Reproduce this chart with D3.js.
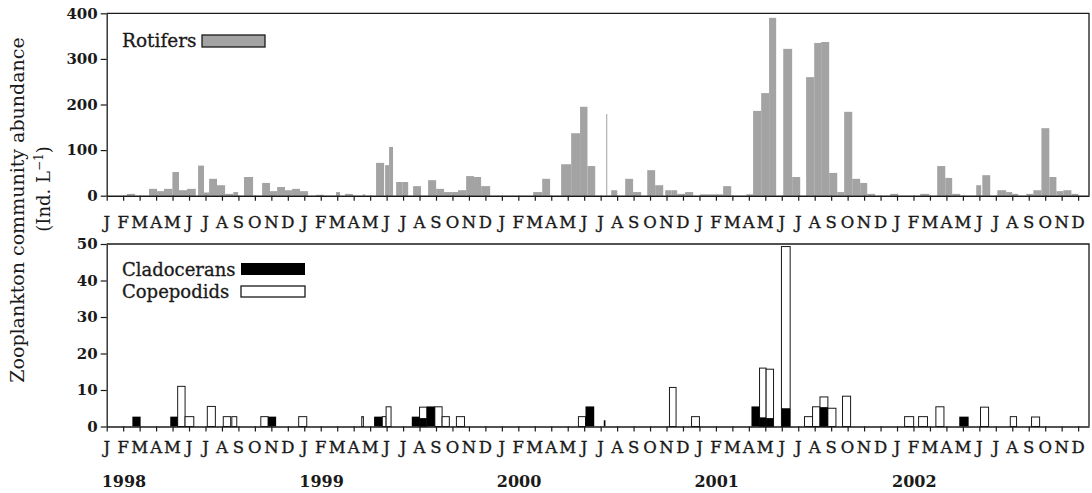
<!DOCTYPE html>
<html>
<head>
<meta charset="utf-8">
<script src="https://cdn.jsdelivr.net/npm/d3@7.9.0/dist/d3.min.js"></script>
<style>
  body { margin: 0; background: #fff; }
  svg { display: block; font-family: "DejaVu Serif", serif; }
</style>
</head>
<body>
<svg id="chart" width="1092" height="493"></svg>
<script>
// month letters and years on the x axis
const monthLetters = ["J", "F", "M", "A", "M", "J", "J", "A", "S", "O", "N", "D"];
const years = ["1998", "1999", "2000", "2001", "2002"];
const topTicks = [0, 100, 200, 300, 400];
const bottomTicks = [0, 10, 20, 30, 40, 50];

// sampling periods in months since Jan 1998: [start, end, abundance]
const rotifers = [
  [1.22, 1.72, 4], [2.57, 3.06, 15], [3.06, 3.48, 10], [3.48, 3.99, 15], [3.99, 4.39, 52],
  [4.39, 4.88, 12], [4.88, 5.41, 15], [5.55, 5.91, 66], [5.91, 6.22, 7], [6.22, 6.7, 37],
  [6.7, 7.19, 23], [7.19, 7.69, 4], [7.69, 7.98, 8], [8.34, 8.89, 41], [9.44, 9.92, 28],
  [9.92, 10.35, 10], [10.35, 10.83, 19], [10.83, 11.26, 12], [11.26, 11.74, 15], [11.74, 12.23, 10],
  [12.7, 13.2, 2], [13.93, 14.17, 8], [14.48, 14.95, 4], [15.55, 15.69, 3], [16.36, 16.85, 72],
  [16.91, 17.15, 67], [17.15, 17.39, 107], [17.58, 17.95, 30], [17.95, 18.31, 30], [18.61, 19.09, 21],
  [19.52, 20.01, 34], [20.01, 20.49, 15], [20.49, 20.92, 8], [20.92, 21.34, 8], [21.34, 21.83, 12],
  [21.83, 22.31, 43], [22.31, 22.74, 41], [22.74, 23.29, 21], [25.9, 26.45, 8], [26.45, 26.93, 37],
  [27.6, 28.21, 69], [28.21, 28.75, 137], [28.75, 29.2, 195], [29.2, 29.67, 65], [30.34, 30.4, 179],
  [30.64, 31.01, 12], [31.49, 31.97, 37], [31.97, 32.46, 8], [32.83, 33.31, 56], [33.31, 33.8, 23],
  [33.92, 34.29, 12], [34.29, 34.65, 12], [34.65, 35.13, 4], [35.13, 35.62, 8], [36.04, 36.5, 3],
  [36.5, 36.97, 3], [36.97, 37.44, 3], [37.44, 37.93, 21], [38.84, 39.26, 3], [39.26, 39.75, 186],
  [39.75, 40.23, 225], [40.23, 40.66, 390], [41.09, 41.63, 322], [41.63, 42.12, 41], [42.48, 42.97, 260],
  [42.97, 43.39, 335], [43.39, 43.88, 337], [43.88, 44.37, 50], [44.37, 44.79, 8], [44.79, 45.28, 184],
  [45.28, 45.76, 37], [45.76, 46.19, 28], [46.19, 46.67, 4], [47.59, 48.07, 4], [49.41, 49.96, 4],
  [50.44, 50.93, 65], [50.93, 51.35, 39], [51.35, 51.84, 4], [52.81, 53.11, 23], [53.18, 53.66, 45],
  [54.09, 54.63, 12], [54.63, 55.0, 8], [55.0, 55.36, 4], [55.85, 56.28, 4], [56.28, 56.77, 12],
  [56.77, 57.25, 148], [57.25, 57.68, 41], [57.68, 58.1, 10], [58.1, 58.59, 12], [58.59, 59.01, 4]
];

const cladocerans = [
  [1.56, 2.06, 2.7], [3.86, 4.31, 2.7], [9.8, 10.29, 2.7], [16.24, 16.73, 2.7], [18.53, 19.0, 2.7],
  [19.0, 19.44, 2.3], [19.44, 19.93, 5.5], [29.08, 29.61, 5.5], [30.19, 30.29, 1.7], [39.16, 39.65, 5.5],
  [39.65, 40.05, 2.5], [40.05, 40.5, 2.3], [40.98, 41.51, 5.0], [43.32, 43.8, 5.3], [51.78, 52.35, 2.7]
];

const copepodids = [
  [4.31, 4.76, 11], [4.76, 5.29, 2.7], [6.11, 6.6, 5.5], [7.08, 7.53, 2.7], [7.6, 7.9, 2.7],
  [9.36, 9.8, 2.7], [11.66, 12.15, 2.7], [15.49, 15.59, 2.7], [16.74, 16.97, 2.7], [16.97, 17.27, 5.4],
  [19.0, 19.44, 5.3], [19.93, 20.37, 5.4], [20.37, 20.81, 2.7], [21.24, 21.73, 2.7], [28.65, 29.08, 2.7],
  [34.18, 34.58, 10.7], [35.52, 36.0, 2.7], [39.65, 40.05, 16], [40.05, 40.5, 15.7], [40.98, 41.51, 49.3],
  [42.38, 42.87, 2.7], [42.87, 43.32, 5.4], [43.32, 43.8, 8.1], [43.8, 44.29, 5.0], [44.69, 45.18, 8.3],
  [48.46, 49.01, 2.7], [49.31, 49.85, 2.7], [50.36, 50.85, 5.4], [53.07, 53.56, 5.3], [54.88, 55.26, 2.7],
  [56.17, 56.66, 2.6]
];

const svg = d3.select("#chart");
const ink = "#1a1a1a";

const x = d3.scaleLinear().domain([0, 59.66]).range([106.7, 1089]);
const yTop = d3.scaleLinear().domain([0, 400]).range([195.7, 13.3]);
const yBot = d3.scaleLinear().domain([0, 50]).range([426.5, 244]);

function panel(y, ticks, labelY) {
  const g = svg.append("g");
  const [y0, y1] = y.range();
  const [x0, x1] = x.range();

  // box: top and right edges
  g.append("path")
    .attr("d", `M${x0},${y1}H${x1}V${y0}`)
    .attr("fill", "none")
    .attr("stroke", ink)
    .attr("stroke-width", 1.3);

  // y axis
  const ay = g.append("g")
    .attr("transform", `translate(${x0},0)`)
    .call(d3.axisLeft(y).tickValues(ticks).tickSize(6).tickSizeOuter(0).tickPadding(3));
  ay.select(".domain").attr("stroke", ink).attr("stroke-width", 1.3);
  ay.selectAll(".tick line").attr("stroke", ink).attr("stroke-width", 1.2);
  ay.selectAll(".tick text")
    .attr("fill", ink)
    .style("font-family", "DejaVu Serif, serif")
    .style("font-size", "15px")
    .style("font-weight", "bold");

  // x axis with a tick at every month start
  const ax = g.append("g")
    .attr("transform", `translate(0,${y0})`)
    .call(d3.axisBottom(x).tickValues(d3.range(0, 60)).tickSize(5).tickSizeOuter(0).tickFormat(""));
  ax.select(".domain").attr("stroke", ink).attr("stroke-width", 1.6);
  ax.selectAll(".tick line").attr("stroke", ink).attr("stroke-width", 1.2);

  // month letters
  g.append("g").selectAll("text")
    .data(d3.range(0, 60))
    .join("text")
    .attr("x", d => x(d))
    .attr("y", labelY)
    .attr("text-anchor", "middle")
    .attr("fill", ink)
    .attr("stroke", ink)
    .attr("stroke-width", 0.35)
    .style("font-size", "16.5px")
    .text(d => monthLetters[d % 12]);
  return g;
}

const gTop = panel(yTop, topTicks, 228);
const gBot = panel(yBot, bottomTicks, 453);

// rotifer bars
gTop.insert("g", ":first-child").selectAll("rect")
  .data(rotifers)
  .join("rect")
  .attr("x", d => x(d[0]))
  .attr("width", d => Math.max(1, x(d[1]) - x(d[0])))
  .attr("y", d => yTop(d[2]))
  .attr("height", d => yTop(0) - yTop(d[2]))
  .attr("fill", "#a3a3a3");

// copepodids first (white), cladocerans over them (black)
const barsBot = gBot.insert("g", ":first-child");
barsBot.selectAll("rect.cope")
  .data(copepodids)
  .join("rect")
  .attr("class", "cope")
  .attr("x", d => x(d[0]))
  .attr("width", d => x(d[1]) - x(d[0]))
  .attr("y", d => yBot(d[2]))
  .attr("height", d => yBot(0) - yBot(d[2]))
  .attr("fill", "#fff")
  .attr("stroke", ink)
  .attr("stroke-width", 1);
barsBot.selectAll("rect.clad")
  .data(cladocerans)
  .join("rect")
  .attr("class", "clad")
  .attr("x", d => x(d[0]))
  .attr("width", d => Math.max(1.5, x(d[1]) - x(d[0])))
  .attr("y", d => yBot(d[2]))
  .attr("height", d => yBot(0) - yBot(d[2]))
  .attr("fill", "#000");

// years under the bottom axis
svg.append("g").selectAll("text")
  .data(years)
  .join("text")
  .attr("x", (d, i) => x(i * 12) - 5)
  .attr("y", 487)
  .attr("fill", ink)
  .style("font-size", "16px")
  .style("font-weight", "bold")
  .text(d => d);

// legends
svg.append("text").attr("x", 122).attr("y", 47).attr("fill", ink)
  .attr("stroke", ink).attr("stroke-width", 0.3)
  .style("font-size", "18.5px").text("Rotifers");
svg.append("rect").attr("x", 202).attr("y", 35).attr("width", 63).attr("height", 12)
  .attr("fill", "#a3a3a3").attr("stroke", ink).attr("stroke-width", 1.3);

svg.append("text").attr("x", 122).attr("y", 276).attr("fill", ink)
  .attr("stroke", ink).attr("stroke-width", 0.3)
  .style("font-size", "18px").text("Cladocerans");
svg.append("rect").attr("x", 241).attr("y", 263).attr("width", 64).attr("height", 12)
  .attr("fill", "#000");
svg.append("text").attr("x", 122).attr("y", 298).attr("fill", ink)
  .attr("stroke", ink).attr("stroke-width", 0.3)
  .style("font-size", "18px").text("Copepodids");
svg.append("rect").attr("x", 241).attr("y", 286).attr("width", 64).attr("height", 11)
  .attr("fill", "#fff").attr("stroke", ink).attr("stroke-width", 1.3);

// y axis title, two lines
svg.append("text")
  .attr("transform", "translate(24,210) rotate(-90)")
  .attr("text-anchor", "middle")
  .attr("fill", ink)
  .style("font-size", "19px")
  .text("Zooplankton community abundance");
const line2 = svg.append("text")
  .attr("transform", "translate(50,189) rotate(-90)")
  .attr("text-anchor", "middle")
  .attr("fill", ink)
  .style("font-size", "18px");
line2.append("tspan").text("(Ind. L");
line2.append("tspan").attr("baseline-shift", "super").style("font-size", "12px").text("\u22121");
line2.append("tspan").text(")");
</script>
</body>
</html>
